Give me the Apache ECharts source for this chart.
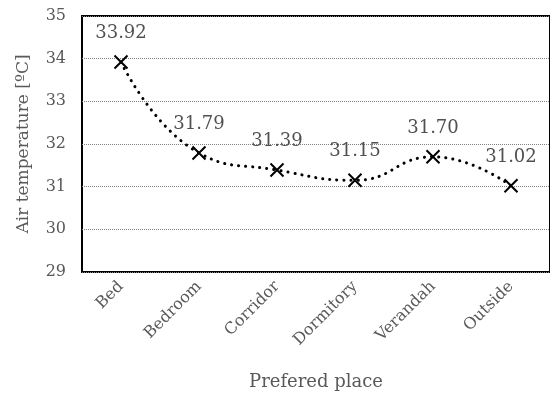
<!DOCTYPE html>
<html><head><meta charset="utf-8">
<script src="https://cdn.jsdelivr.net/npm/echarts@6/dist/echarts.min.js"></script>
<style>html,body{margin:0;padding:0;background:#fff}#c{width:550px;height:403px}</style>
</head><body><div id="c"></div>
<script>
const categories = ['Bed','Bedroom','Corridor','Dormitory','Verandah','Outside'];
const temperatures = [33.92, 31.79, 31.39, 31.15, 31.70, 31.02];
const yTicks = {min: 29, max: 35, interval: 1};
const xTitle = 'Prefered place';
const yTitle = 'Air temperature [ºC]';

const FONT = 'DejaVu Serif';
const chart = echarts.init(document.getElementById('c'), null, {renderer: 'canvas'});
chart.setOption({
  animation: false,
  grid: {left: 82, top: 16, right: -6, bottom: 131, show: true, borderColor: '#000', borderWidth: 2, backgroundColor: 'transparent'},
  xAxis: {
    type: 'category', data: categories, boundaryGap: true,
    name: xTitle, nameLocation: 'middle', nameGap: 101,
    nameTextStyle: {fontFamily: FONT, fontSize: 18, color: '#595959'},
    axisLine: {show: false}, axisTick: {show: false},
    axisLabel: {rotate: 45, margin: 12, fontFamily: FONT, fontSize: 16, color: '#595959', interval: 0}
  },
  yAxis: {
    type: 'value', min: yTicks.min, max: yTicks.max, interval: yTicks.interval,
    name: yTitle, nameLocation: 'middle', nameGap: 50,
    nameTextStyle: {fontFamily: FONT, fontSize: 17, color: '#595959'},
    axisLine: {show: false}, axisTick: {show: false},
    axisLabel: {margin: 16, fontFamily: FONT, fontSize: 16, color: '#595959'},
    splitLine: {lineStyle: {color: '#808080', type: [1, 1], width: 1}}
  },
  series: [{
    type: 'line', data: temperatures, smooth: 0.5,
    lineStyle: {color: '#000', width: 3, type: [0.1, 7], cap: 'round'},
    symbol: 'path://M0,0L10,10M10,0L0,10', symbolSize: 13, showAllSymbol: true,
    itemStyle: {color: '#000', borderColor: '#000', borderWidth: 2},
    label: {show: true, position: 'top', distance: 12, fontFamily: FONT, fontSize: 18, color: '#505050',
      formatter: p => p.value.toFixed(2)}
  }]
});
</script></body></html>
